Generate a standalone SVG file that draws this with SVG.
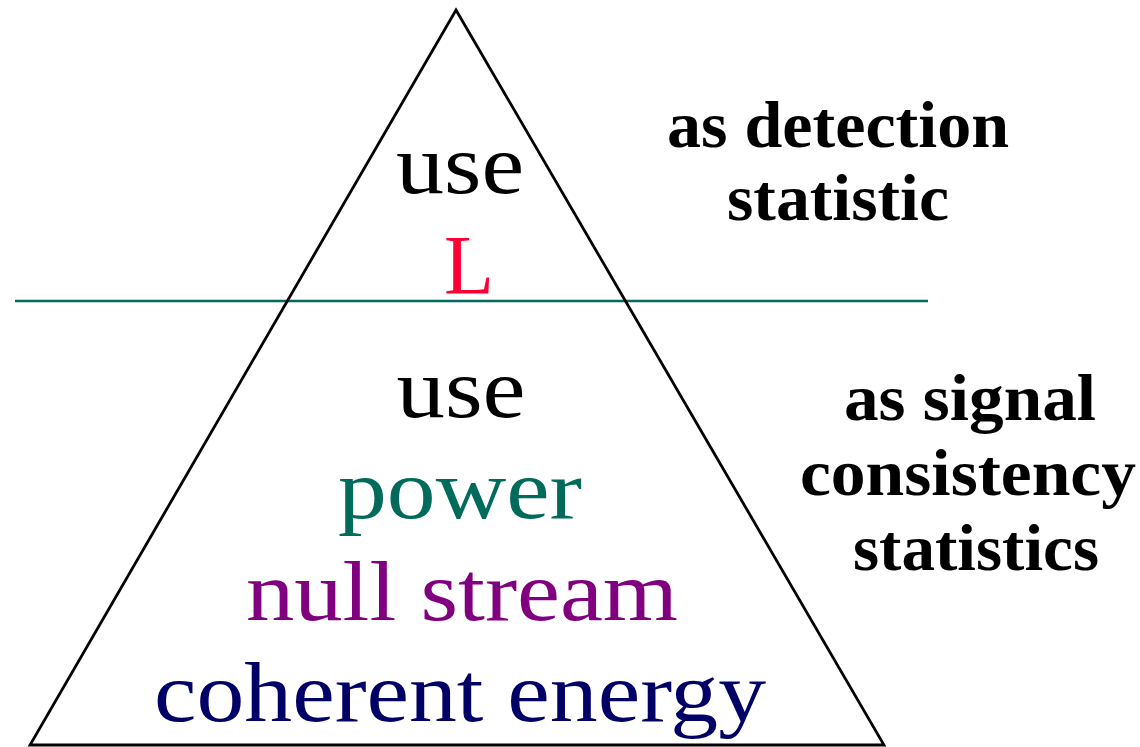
<svg xmlns="http://www.w3.org/2000/svg" width="1140" height="747" viewBox="0 0 1140 747">
  <style>
    .serif { font-family: "Liberation Serif", "DejaVu Serif", serif; font-size: 85px; text-anchor: middle; }
    .note { font-family: "Liberation Serif", "DejaVu Serif", serif; font-size: 65px; font-weight: bold; text-anchor: middle; fill: #000; }
    .edge { fill: none; stroke: #000; stroke-width: 2.8; }
    .divider { stroke: #006b5e; stroke-width: 2.4; }
  </style>
  <rect width="1140" height="747" fill="#fff"/>

  <!-- dividing line between detection and consistency tiers -->
  <g id="connectors">
    <line class="divider" x1="15" y1="301" x2="928" y2="301"/>
  </g>

  <!-- pyramid outline -->
  <g id="pyramid">
    <polygon class="edge" points="456,10 884,745 30,745"/>
  </g>

  <!-- upper tier -->
  <g id="tier-top">
    <text class="serif" x="460" y="193" fill="#000" textLength="128" lengthAdjust="spacingAndGlyphs">use</text>
    <text class="serif" x="469" y="294" fill="#ff0033" textLength="50" lengthAdjust="spacingAndGlyphs">L</text>
  </g>

  <!-- lower tier -->
  <g id="tier-bottom">
    <text class="serif" x="461" y="417" fill="#000" textLength="129" lengthAdjust="spacingAndGlyphs">use</text>
    <text class="serif" x="460" y="518" fill="#006b5b" textLength="244" lengthAdjust="spacingAndGlyphs">power</text>
    <text class="serif" x="462" y="620" fill="#800080" textLength="432" lengthAdjust="spacingAndGlyphs">null stream</text>
    <text class="serif" x="460" y="721" fill="#000066" textLength="612" lengthAdjust="spacingAndGlyphs">coherent energy</text>
  </g>

  <!-- side notes -->
  <g id="note-detection">
    <text class="note" x="838" y="147" textLength="342" lengthAdjust="spacingAndGlyphs">as detection</text>
    <text class="note" x="838" y="220" textLength="222" lengthAdjust="spacingAndGlyphs">statistic</text>
  </g>
  <g id="note-consistency">
    <text class="note" x="970" y="420" textLength="252" lengthAdjust="spacingAndGlyphs">as signal</text>
    <text class="note" x="968" y="495" textLength="336" lengthAdjust="spacingAndGlyphs">consistency</text>
    <text class="note" x="976" y="570" textLength="246" lengthAdjust="spacingAndGlyphs">statistics</text>
  </g>
</svg>
